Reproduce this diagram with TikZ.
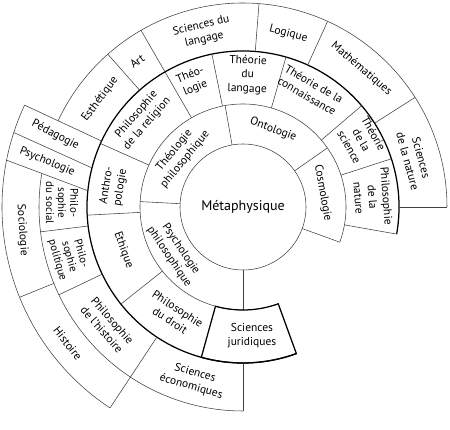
\documentclass[tikz,border=0pt]{standalone}
\usepackage{fontspec}
\setmainfont{PT Sans}

\begin{document}
\begin{tikzpicture}[
  x=1pt, y=1pt,
  font=\fontsize{11.5}{14}\selectfont,
  fine/.style={draw=black!75, line width=0.55pt},
  heavy/.style={draw=black, line width=1.25pt},
  lbl/.style={align=center, inner sep=0pt},
  small/.style={lbl, font=\fontsize{11}{12.2}\selectfont}
]
\useasboundingbox (0,0) rectangle (450,430);
\begin{scope}[shift={(243,223)}]

% centre
\draw[fine] (0,0) circle[radius=63pt];
\node[lbl, font=\fontsize{14}{16}\selectfont] (meta) at (0,0) {Métaphysique};

% inner ring
\draw[fine] (-20:103pt) arc[start angle=-20, end angle=270, radius=103pt];
\foreach \a in {-20,35,100,177,270}
  \draw[fine] (\a:63pt) -- (\a:103pt);

% middle ring
\draw[heavy] (-10:156pt) arc[start angle=-10, end angle=290, radius=156pt];
\foreach \a in {-10,18,40.5,74,101.5,120,156,183,218.5}
  \draw[fine] (\a:103pt) -- (\a:156pt);
\draw[heavy] (254.5:103pt) arc[start angle=254.5, end angle=290, radius=103pt]
  -- (290:156pt) arc[start angle=290, end angle=254.5, radius=156pt] -- cycle;

% outer ring, top
\draw[fine] (0:204pt) arc[start angle=0, end angle=155, radius=204pt];
\foreach \a in {0,32.5,65.5,85.5,120,131.5}
  \draw[fine] (\a:156pt) -- (\a:204pt);
\draw[fine] (155:156pt) -- (155:241pt);

% outer ring, left
\draw[fine] (155:241pt) arc[start angle=155, end angle=236.5, radius=241pt];
\draw[fine] (165.5:156pt) -- (162:241pt);
\draw[fine] (174:156pt) -- (168.8:241pt);
\draw[fine] (170.5:204pt) arc[start angle=170.5, end angle=270, radius=204pt];
\foreach \a in {187,205.5,270}
  \draw[fine] (\a:156pt) -- (\a:204pt);
\draw[fine] (202:204pt) -- (202:241pt);
\draw[fine] (236.5:156pt) -- (236.5:241pt);

% labels, inner ring
\node[lbl, rotate=50.5] (theolphil) at (140.5:82pt) {Théologie\\philosophique};
\node[lbl, rotate=-21] (onto) at (68.7:83pt) {Ontologie};
\node[lbl, rotate=-80] (cosmo) at (10:81pt) {Cosmologie};
\node[lbl, rotate=-56] (psychphil) at (214:82pt) {Psychologie\\philosophique};

% labels, middle ring
\node[lbl, rotate=22] (theol) at (111.8:135pt) {Théo-\\logie};
\node[lbl, rotate=-2] (theolang) at (88:132pt) {Théorie\\du\\langage};
\node[lbl, rotate=-30] (theoconn) at (60:135pt) {Théorie de la\\connaissance};
\node[lbl, rotate=-60.6] (theosci) at (29.4:136pt) {Théorie\\de la\\science};
\node[lbl, rotate=-85.6] (philnat) at (4.4:130pt) {Philosophie\\de la\\nature};
\node[lbl, rotate=49] (philrel) at (139:134pt) {Philosophie\\de la religion};
\node[lbl, rotate=81] (anthro) at (171:131pt) {Anthro-\\pologie};
\node[lbl, rotate=-70] (ethique) at (199.7:127pt) {Ethique};
\node[lbl, rotate=-33] (phildroit) at (237.3:128pt) {Philosophie\\du droit};
\node[lbl] (scijur) at (274:129pt) {Sciences\\juridiques};

% labels, outer ring
\node[lbl, rotate=53] (esth) at (143:179pt) {Esthétique};
\node[lbl, rotate=36] (art) at (126:180pt) {Art};
\node[lbl, rotate=13] (scilang) at (103:179pt) {Sciences du\\langage};
\node[lbl, rotate=-14.7] (logique) at (75.3:179pt) {Logique};
\node[lbl, rotate=-40.6] (math) at (49.4:182pt) {Mathématiques};
\node[lbl, rotate=-74.5] (scinat) at (15.5:178pt) {Sciences\\de la nature};
\node[lbl, rotate=-27] (peda) at (159:201pt) {Pédagogie};
\node[lbl, rotate=-22] (psycho) at (167:201pt) {Psychologie};
\node[lbl, rotate=-86] (socio) at (186:222pt) {Sociologie};
\node[lbl, rotate=-52] (histoire) at (217.9:222pt) {Histoire};
\node[small, rotate=-90] (philsoc) at (178.7:181pt) {Philo-\\sophie\\du social};
\node[small, rotate=-74] (philpol) at (196:181pt) {Philo-\\sophie\\politique};
\node[lbl, rotate=-49] (philhist) at (221:180pt) {Philosophie\\de l'histoire};
\node[lbl, rotate=-16] (scieco) at (253.9:180pt) {Sciences\\économiques};

\end{scope}
\end{tikzpicture}
\end{document}
